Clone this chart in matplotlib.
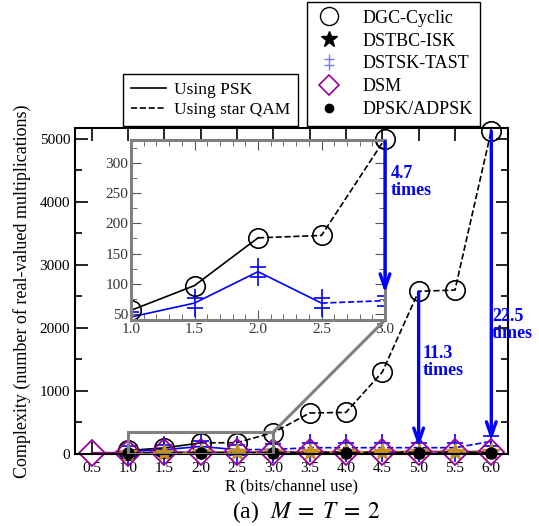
import matplotlib
matplotlib.use("Agg")
import matplotlib.pyplot as plt
from matplotlib.lines import Line2D
from matplotlib.path import Path
from matplotlib.patches import Rectangle, ConnectionPatch
from matplotlib.ticker import MultipleLocator

plt.rcParams["font.family"] = "Liberation Serif"
plt.rcParams["mathtext.fontset"] = "stix"

# data
rates = [0.5, 1.0, 1.5, 2.0, 2.5, 3.0, 3.5, 4.0, 4.5, 5.0, 5.5, 6.0]

dgc_r = [1.0, 1.5, 2.0, 2.5, 3.0, 3.5, 4.0, 4.5, 5.0, 5.5, 6.0]
dgc = [56, 97, 176, 180, 340, 650, 660, 1300, 2580, 2600, 5130]

tast_r = [1.0, 1.5, 2.0, 2.5, 3.0, 3.5, 4.0, 4.5, 5.0, 5.5, 6.0]
tast = [45, 68, 120, 68, 72, 100, 100, 100, 100, 100, 200]

dsm = [16, 20, 24, 28, 28, 32, 32, 32, 32, 36, 36, 36]

isk_r = [1.0, 1.5, 2.0, 2.5, 3.0, 3.5, 4.0, 4.5, 5.0, 5.5, 6.0]
isk = [16, 20, 24, 24, 28, 28, 32, 32, 36, 36, 36]

dpsk_r = [1.0, 2.0, 3.0, 4.0, 5.0, 6.0]
dpsk = [8, 10, 12, 14, 16, 18]

BLUE = "#0000ff"
PURPLE = "#990099"
ORANGE = "#c8901a"
GRAY = "#808080"

# double dagger marker
ddag = Path([(0, -1), (0, 1), (-0.55, 0.35), (0.55, 0.35), (-0.55, -0.35), (0.55, -0.35)],
            [Path.MOVETO, Path.LINETO, Path.MOVETO, Path.LINETO, Path.MOVETO, Path.LINETO])

W, H = 539, 526


def px(x, y):
    return x / W, 1 - y / H


def split(xs, ys, cut):
    a = [(x, y) for x, y in zip(xs, ys) if x <= cut]
    b = [(x, y) for x, y in zip(xs, ys) if x >= cut]
    return list(zip(*a)), list(zip(*b))


def draw_big(ax, clip):
    (x1, y1), (x2, y2) = split(dgc_r, dgc, 2.0)
    ax.plot(x1, y1, "-", color="k", lw=1.2)
    ax.plot(x2, y2, "--", color="k", lw=1.2)
    (x1, y1), (x2, y2) = split(tast_r, tast, 2.5)
    ax.plot(x1, y1, "-", color=BLUE, lw=1.2)
    ax.plot(x2, y2, "--", color=BLUE, lw=1.2)
    ax.plot(tast_r, tast, ls="none", marker=ddag, ms=20, color=BLUE, mew=1.2, clip_on=clip)
    ax.plot(dgc_r, dgc, ls="none", marker="o", ms=14, mfc="none", mec="k", mew=1.2, clip_on=clip)


def draw_small(ax):
    ax.plot(rates, dsm, "-", color=PURPLE, lw=1.5)
    ax.plot(isk_r, isk, "--", color=ORANGE, lw=1.5)
    ax.plot(dpsk_r, dpsk, "--", color="k", lw=2)
    ax.plot(isk_r, isk, ls="none", marker="*", ms=13, color=ORANGE, clip_on=False)
    ax.plot(rates, dsm, ls="none", marker="D", ms=13, mfc="none", mec=PURPLE, mew=1.3, clip_on=False)
    ax.plot(dpsk_r, dpsk, ls="none", marker="o", ms=8, color="k", clip_on=False)


fig = plt.figure(figsize=(W / 100, H / 100), dpi=100)

ax = fig.add_axes([75 / W, 1 - 454 / H, (508 - 75) / W, (454 - 128) / H])
draw_big(ax, clip=False)
draw_small(ax)
ax.set_xlim(0.27, 6.23)
ax.set_ylim(0, 5170)
ax.set_xticks(rates)
ax.set_xticklabels([f"{r:.1f}" for r in rates])
ax.yaxis.set_major_locator(MultipleLocator(1000))
ax.yaxis.set_minor_locator(MultipleLocator(500))
ax.tick_params(which="both", direction="in", top=True, right=True, labelsize=11, width=1.2)
ax.tick_params(which="major", length=9)
ax.tick_params(which="minor", length=5)
ax.tick_params(axis="x", pad=6)
for s in ax.spines.values():
    s.set_linewidth(1.5)
ax.set_xlabel("R (bits/channel use)", fontsize=12, labelpad=2)
ax.set_ylabel("Complexity (number of real-valued multiplications)", fontsize=13, labelpad=6)

# zoom box
ax.add_patch(Rectangle((1.0, 0), 2.0, 350, fill=False, ec=GRAY, lw=2.2, zorder=5))

# arrows in main axes
arr = dict(arrowstyle="->,head_length=1.0,head_width=0.35", color=BLUE, lw=2.4, shrinkA=0, shrinkB=0)
ax.annotate("", xy=(5.0, 110), xytext=(5.0, 2570), arrowprops=arr)
ax.annotate("", xy=(6.0, 210), xytext=(6.0, 5120), arrowprops=arr, annotation_clip=False)

# inset
axin = fig.add_axes([131 / W, 1 - 320 / H, (385 - 131) / W, (320 - 140) / H])
draw_big(axin, clip=True)
axin.plot([dgc_r[4]], [dgc[4]], ls="none", marker="o", ms=14, mfc="none", mec="k", mew=1.2,
          clip_on=False)
axin.set_xlim(1.0, 3.0)
axin.set_ylim(40, 338)
axin.xaxis.set_major_locator(MultipleLocator(0.5))
axin.xaxis.set_minor_locator(MultipleLocator(0.1))
axin.yaxis.set_major_locator(MultipleLocator(50))
axin.yaxis.set_minor_locator(MultipleLocator(25))
axin.set_xticklabels([f"{v:.1f}" for v in axin.get_xticks()])
axin.tick_params(which="both", direction="in", top=True, right=True, labelsize=11,
                 color="#555555", labelcolor="#333333", pad=2)
axin.tick_params(which="major", length=7)
axin.tick_params(which="minor", length=4)
for s in axin.spines.values():
    s.set_linewidth(2.2)
    s.set_color(GRAY)
axin.annotate("", xy=(3.0, 85), xytext=(3.0, 335), arrowprops=arr, annotation_clip=False)

con = ConnectionPatch(xyA=(3.0, 350), coordsA=ax.transData, xyB=(3.0, 40), coordsB=axin.transData,
                      color=GRAY, lw=2.2)
fig.add_artist(con)

# labels near arrows
tkw = dict(color=BLUE, fontweight="bold", fontsize=13, va="center", ha="left", linespacing=1.0)
fig.text(*px(391, 182), "4.7\ntimes", **tkw)
fig.text(*px(423, 362), "11.3\ntimes", **tkw)
fig.text(*px(492, 325), "22.5\ntimes", **tkw)

# legends
h1 = [Line2D([], [], color="k", lw=1.2, ls="-"), Line2D([], [], color="k", lw=1.2, ls="--")]
leg1 = fig.legend(h1, ["Using PSK", "Using star QAM"], loc="lower left",
                  bbox_to_anchor=px(123, 126), fontsize=12.5, frameon=True, fancybox=False,
                  edgecolor="k", framealpha=1, handlelength=2.0, borderpad=0.45, labelspacing=0.25,
                  handletextpad=0.5, borderaxespad=0)
leg1.get_frame().set_linewidth(1.0)

h2 = [Line2D([], [], ls="none", marker="o", ms=13, mfc="none", mec="k", mew=1.0),
      Line2D([], [], ls="none", marker="*", ms=12, color="k"),
      Line2D([], [], ls="none", marker=ddag, ms=12, color="#7777ff", mew=1.0),
      Line2D([], [], ls="none", marker="D", ms=10, mfc="none", mec=PURPLE, mew=1.2),
      Line2D([], [], ls="none", marker="o", ms=6, color="k")]
leg2 = fig.legend(h2, ["DGC-Cyclic", "DSTBC-ISK", "DSTSK-TAST", "DSM", "DPSK/ADPSK"],
                  loc="lower left", bbox_to_anchor=px(307, 126), fontsize=13, frameon=True,
                  fancybox=False, edgecolor="k", framealpha=1, handlelength=1.5,
                  borderpad=0.45, labelspacing=0.32, handletextpad=1.1, borderaxespad=0)
leg2.get_frame().set_linewidth(1.0)

fig.text(*px(306, 512), r"(a)  $M\;=\;T\;=\;2$", fontsize=17, ha="center", va="center")

fig.savefig("out.png", dpi=100)
